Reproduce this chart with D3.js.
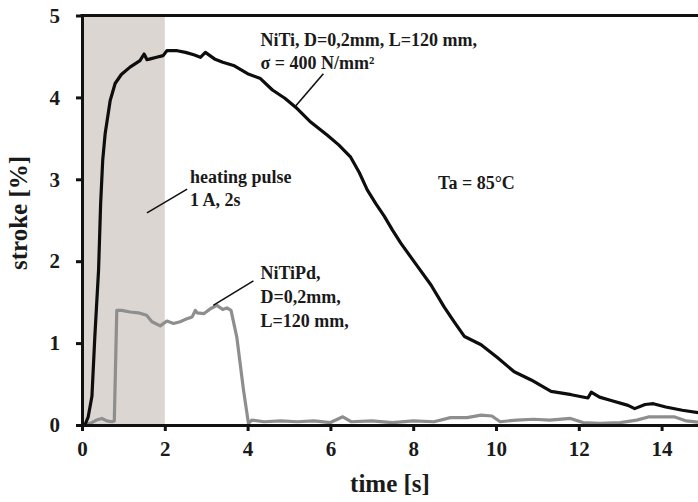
<!DOCTYPE html>
<html>
<head>
<meta charset="utf-8">
<script src="https://cdn.jsdelivr.net/npm/d3@7"></script>
<style>
  body { margin: 0; background: #fff; }
  text { font-family: "Liberation Serif", "Times New Roman", serif; font-weight: bold; fill: #1a1a1a; }
</style>
</head>
<body>
<div id="chart"></div>
<script>
// NiTi wire, D=0,2mm, L=120 mm, sigma = 400 N/mm2
var nitiTime = [0, 0.07, 0.15, 0.24, 0.31, 0.4, 0.45, 0.5, 0.56, 0.68, 0.8, 0.95, 1.16, 1.4, 1.5, 1.57, 1.65, 1.8, 1.96, 2.05,
  2.3, 2.5, 2.7, 2.86, 2.98, 3.2, 3.4, 3.66, 4.0, 4.31, 4.6, 4.9, 5.16, 5.5, 5.92, 6.2, 6.49, 6.7, 6.89, 7.1,
  7.3, 7.5, 7.7, 8.1, 8.43, 8.75, 8.99, 9.24, 9.64, 10.04, 10.44, 10.85, 11.33, 11.82, 12.22, 12.3, 12.5, 12.78, 13.19, 13.35,
  13.6, 13.8, 14.1, 14.5, 14.9, 15.1];
var nitiStroke = [0, 0, 0.1, 0.35, 1.08, 1.89, 2.7, 3.23, 3.56, 3.96, 4.17, 4.28, 4.37, 4.45, 4.53, 4.46, 4.47, 4.49, 4.51, 4.57,
  4.57, 4.55, 4.52, 4.49, 4.55, 4.47, 4.43, 4.39, 4.29, 4.23, 4.09, 3.99, 3.88, 3.71, 3.54, 3.42, 3.27, 3.08, 2.87, 2.7,
  2.55, 2.38, 2.22, 1.94, 1.71, 1.44, 1.26, 1.08, 0.98, 0.82, 0.65, 0.55, 0.41, 0.37, 0.33, 0.40, 0.34, 0.30, 0.24, 0.20,
  0.25, 0.26, 0.22, 0.18, 0.15, 0.14];

// NiTiPd wire
var pdTime = [0, 0.2, 0.35, 0.48, 0.6, 0.72, 0.78, 0.84, 0.96, 1.16, 1.36, 1.56, 1.69, 1.89, 2.05, 2.21, 2.37, 2.5, 2.66, 2.74,
  2.78, 2.95, 3.1, 3.26, 3.4, 3.5, 3.6, 3.74, 3.9, 4.02, 4.1, 4.4, 4.8, 5.2, 5.6, 6.0, 6.3, 6.5, 7.0, 7.5,
  8.0, 8.5, 8.9, 9.3, 9.64, 9.9, 10.1, 10.5, 10.9, 11.3, 11.8, 12.1, 12.5, 13.0, 13.4, 13.7, 14.0, 14.3, 14.6, 15.0];
var pdStroke = [0, 0.02, 0.06, 0.08, 0.05, 0.04, 0.05, 1.40, 1.40, 1.38, 1.37, 1.34, 1.26, 1.21, 1.27, 1.24, 1.26, 1.29, 1.32, 1.40,
  1.37, 1.36, 1.42, 1.46, 1.41, 1.43, 1.40, 1.07, 0.43, 0.02, 0.06, 0.04, 0.05, 0.04, 0.05, 0.03, 0.10, 0.04, 0.05, 0.03,
  0.05, 0.04, 0.09, 0.09, 0.12, 0.11, 0.04, 0.06, 0.07, 0.06, 0.08, 0.03, 0.02, 0.03, 0.06, 0.10, 0.10, 0.10, 0.05, 0.03];

var xTicks = [0, 2, 4, 6, 8, 10, 12, 14];
var yTicks = [0, 1, 2, 3, 4, 5];
var pulse = [0, 2]; // heating pulse 1 A, 2s

var width = 698, height = 502;

var x = d3.scaleLinear().domain([0, 15]).range([82, 703]);
var y = d3.scaleLinear().domain([0, 5]).range([425, 15.5]);

var svg = d3.select('#chart').append('svg')
  .attr('width', width)
  .attr('height', height);

// heating pulse band
svg.append('rect')
  .attr('x', x(pulse[0]))
  .attr('y', y(5))
  .attr('width', x(pulse[1]) - x(pulse[0]))
  .attr('height', y(0) - y(5))
  .attr('fill', '#dcd6d3');

function toPoints(ts, vs) {
  return ts.map(function (t, i) { return [t, vs[i]]; });
}

var line = d3.line()
  .x(function (d) { return x(d[0]); })
  .y(function (d) { return y(d[1]); });

svg.append('path')
  .datum(toPoints(pdTime, pdStroke))
  .attr('d', line)
  .attr('fill', 'none')
  .attr('stroke', '#8e8e8e')
  .attr('stroke-width', 3.2)
  .attr('stroke-linejoin', 'round');

svg.append('path')
  .datum(toPoints(nitiTime, nitiStroke))
  .attr('d', line)
  .attr('fill', 'none')
  .attr('stroke', '#0d0d0d')
  .attr('stroke-width', 3.2)
  .attr('stroke-linejoin', 'round');

// axes
var xAxis = svg.append('g')
  .attr('transform', 'translate(0,' + y(0) + ')')
  .call(d3.axisBottom(x).tickValues(xTicks).tickFormat(d3.format('d'))
    .tickSize(6).tickPadding(10).tickSizeOuter(0));
var yAxis = svg.append('g')
  .attr('transform', 'translate(' + x(0) + ',0)')
  .call(d3.axisLeft(y).tickValues(yTicks).tickFormat(d3.format('d'))
    .tickSize(6).tickPadding(16).tickSizeOuter(0));

[xAxis, yAxis].forEach(function (g) {
  g.select('.domain').attr('stroke', '#111').attr('stroke-width', 3);
  g.selectAll('.tick line').attr('stroke', '#111').attr('stroke-width', 3);
  g.selectAll('.tick text')
    .style('font-family', '"Liberation Serif", serif')
    .style('font-weight', 'bold')
    .style('font-size', '21px')
    .attr('fill', '#1a1a1a');
});

// top frame line
svg.append('line')
  .attr('x1', x(0) - 1.5).attr('x2', x(15))
  .attr('y1', y(5)).attr('y2', y(5))
  .attr('stroke', '#111').attr('stroke-width', 3);

// axis titles
svg.append('text')
  .attr('x', 390).attr('y', 492)
  .attr('text-anchor', 'middle')
  .style('font-size', '25px')
  .text('time [s]');

svg.append('text')
  .attr('transform', 'translate(27,213) rotate(-90)')
  .attr('text-anchor', 'middle')
  .style('font-size', '25px')
  .text('stroke [%]');

// annotations, placed in data units
var notes = [
  { t: 4.31, v: 4.63, lines: ['NiTi, D=0,2mm, L=120 mm,', 'σ = 400 N/mm²'], dy: 23 },
  { t: 2.61, v: 2.95, lines: ['heating pulse', '1 A, 2s'], dy: 23 },
  { t: 4.31, v: 1.78, lines: ['NiTiPd,', 'D=0,2mm,', 'L=120 mm,'], dy: 24 },
  { t: 8.6, v: 2.88, lines: ['Ta = 85°C'], dy: 0 }
];
var leaders = [
  [[5.83, 4.29], [5.15, 3.89]],
  [[2.54, 2.88], [1.57, 2.59]],
  [[4.14, 1.76], [3.17, 1.46]]
];

notes.forEach(function (n) {
  var t = svg.append('text')
    .attr('x', x(n.t)).attr('y', y(n.v))
    .style('font-size', '18px');
  n.lines.forEach(function (s, i) {
    t.append('tspan')
      .attr('x', x(n.t))
      .attr('dy', i === 0 ? 0 : n.dy)
      .text(s);
  });
});

leaders.forEach(function (l) {
  svg.append('line')
    .attr('x1', x(l[0][0])).attr('y1', y(l[0][1]))
    .attr('x2', x(l[1][0])).attr('y2', y(l[1][1]))
    .attr('stroke', '#111').attr('stroke-width', 1.6);
});
</script>
</body>
</html>
